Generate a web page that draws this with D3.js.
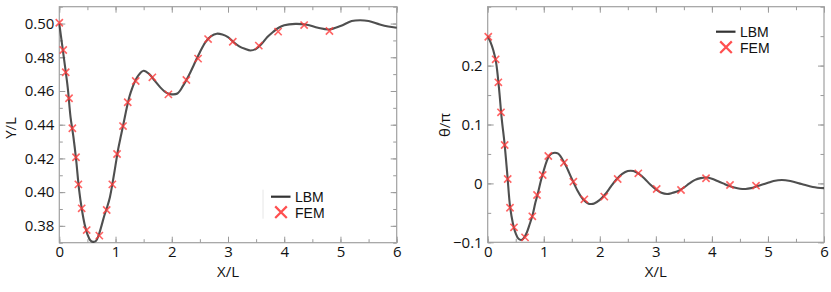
<!DOCTYPE html>
<html>
<head>
<meta charset="utf-8">
<script src="https://cdn.jsdelivr.net/npm/d3@7"></script>
<style>
  body { margin: 0; background: #fff; }
  svg text { font-family: "Open Sans", "DejaVu Sans", sans-serif; fill: #111; }
</style>
</head>
<body>
<svg id="chart" width="831" height="292"></svg>
<script>
// left panel : Y/L vs X/L
let lbmY_x = [0, 0.05, 0.1, 0.15, 0.2, 0.25, 0.3, 0.35, 0.4, 0.45, 0.5, 0.55, 0.6, 0.65, 0.7, 0.75, 0.8, 0.85, 0.9, 0.95,
	1.0, 1.05, 1.1, 1.15, 1.2, 1.25, 1.3, 1.35, 1.4, 1.5, 1.6, 1.7, 1.8, 1.9, 2.0, 2.1, 2.2, 2.3, 2.4, 2.5, 2.6, 2.7, 2.8, 2.9,
	3.0, 3.1, 3.2, 3.3, 3.4, 3.5, 3.6, 3.7, 3.8, 3.9, 4.0, 4.2, 4.4, 4.6, 4.8, 5.0, 5.2, 5.35, 5.5, 5.7, 5.85, 6.0];
let lbmY_y = [0.500, 0.4875, 0.475, 0.462, 0.4445, 0.433, 0.419, 0.402, 0.390, 0.381, 0.375, 0.3715, 0.3705, 0.371, 0.3745, 0.380, 0.386, 0.391, 0.397, 0.406,
	0.416, 0.426, 0.434, 0.442, 0.450, 0.457, 0.462, 0.466, 0.469, 0.472, 0.470, 0.466, 0.462, 0.459, 0.458, 0.4585, 0.463, 0.469, 0.476, 0.483, 0.489, 0.4925, 0.494, 0.4935,
	0.492, 0.489, 0.4865, 0.485, 0.484, 0.485, 0.488, 0.492, 0.495, 0.4975, 0.499, 0.4998, 0.4993, 0.4975, 0.4965, 0.4985, 0.5015, 0.502, 0.5015, 0.4995, 0.4983, 0.4975];
let femY_x = [0, 0.07, 0.114, 0.173, 0.232, 0.297, 0.339, 0.398, 0.487, 0.712, 0.843, 0.943, 1.027, 1.133, 1.217, 1.359, 1.655, 1.94, 2.26, 2.468, 2.646, 3.085, 3.548, 3.891, 4.354, 4.804];
let femY_y = [0.5005, 0.4843, 0.4711, 0.4557, 0.4379, 0.4207, 0.4046, 0.3904, 0.3775, 0.3742, 0.3894, 0.4046, 0.4226, 0.4392, 0.4533, 0.4659, 0.4681, 0.4580, 0.4665, 0.4792, 0.4908, 0.4892, 0.4869, 0.4952, 0.4991, 0.4956];

// right panel : theta/pi vs X/L
let lbmT_x = [0, 0.05, 0.1, 0.15, 0.2, 0.25, 0.3, 0.35, 0.4, 0.45, 0.5, 0.55, 0.6, 0.65, 0.7, 0.75, 0.8, 0.85, 0.9, 0.95,
	1.0, 1.05, 1.1, 1.15, 1.2, 1.25, 1.3, 1.35, 1.4, 1.5, 1.6, 1.7, 1.8, 1.85, 1.9, 2.0, 2.1, 2.2, 2.3, 2.4, 2.5, 2.6, 2.7, 2.8, 2.9,
	3.0, 3.1, 3.2, 3.3, 3.4, 3.5, 3.6, 3.7, 3.8, 3.9, 4.0, 4.1, 4.2, 4.3, 4.4, 4.5, 4.6, 4.7, 4.8, 4.9, 5.0, 5.1, 5.25, 5.4, 5.6, 5.8, 6.0];
let lbmT_y = [0.250, 0.240, 0.226, 0.205, 0.163, 0.110, 0.068, 0.015, -0.040, -0.068, -0.085, -0.094, -0.096, -0.092, -0.083, -0.069, -0.054, -0.033, -0.015, 0.005,
	0.022, 0.037, 0.047, 0.051, 0.052, 0.051, 0.046, 0.038, 0.029, 0.008, -0.012, -0.027, -0.0345, -0.035, -0.034, -0.028, -0.018, -0.005, 0.007, 0.016, 0.021, 0.021, 0.016, 0.008, -0.002,
	-0.010, -0.016, -0.018, -0.016, -0.013, -0.007, 0.000, 0.006, 0.009, 0.010, 0.008, 0.004, 0.000, -0.004, -0.007, -0.009, -0.0095, -0.008, -0.005, -0.002, 0.001, 0.004, 0.0058, 0.004, -0.001, -0.006, -0.008];
let femT_x = [0.01, 0.142, 0.19, 0.237, 0.303, 0.357, 0.398, 0.469, 0.666, 0.796, 0.88, 0.981, 1.081, 1.361, 1.528, 1.724, 2.08, 2.319, 2.687, 3.015, 3.449, 3.895, 4.323, 4.787];
let femT_y = [0.249, 0.2107, 0.1716, 0.1207, 0.0652, 0.0075, -0.0413, -0.0746, -0.0916, -0.0559, -0.0197, 0.0143, 0.0465, 0.0351, 0.0029, -0.027, -0.0225, 0.0075, 0.0171, -0.0095, -0.0112, 0.0087, -0.0027, -0.0039];

let xTicks = [0, 1, 2, 3, 4, 5, 6];
let yTicksL = [0.38, 0.40, 0.42, 0.44, 0.46, 0.48, 0.50];
let yTicksR = [-0.1, 0, 0.1, 0.2];
let seriesNames = ['LBM', 'FEM'];

let svg = d3.select('#chart');

function drawPanel(opt) {
	let x = d3.scaleLinear().domain([0, 6]).range([opt.left, opt.right]);
	let y = d3.scaleLinear().domain(opt.yDomain).range([opt.bottom, opt.top]);
	let g = svg.append('g').classed('panel', true);

	let xMinor = d3.range(0, 6.01, 0.5);
	let yMinor = d3.range(opt.yDomain[0], opt.yDomain[1] + 1e-9, opt.yMinorStep);

	// minor ticks on four sides
	let minorAxes = [
		[d3.axisBottom(x), opt.bottom, 'x', xMinor],
		[d3.axisTop(x), opt.top, 'x', xMinor],
		[d3.axisLeft(y), opt.left, 'y', yMinor],
		[d3.axisRight(y), opt.right, 'y', yMinor]
	];
	minorAxes.forEach(a => {
		let ax = g.append('g')
			.attr('transform', a[2] == 'x' ? `translate(0, ${a[1]})` : `translate(${a[1]}, 0)`)
			.call(a[0].tickValues(a[3]).tickSize(-3.5).tickFormat(''));
		ax.select('.domain').remove();
		ax.selectAll('line').attr('stroke', '#9a9a9a');
	});

	// major ticks with labels on bottom and left
	let majorAxes = [
		[d3.axisBottom(x).tickFormat(d3.format('d')), opt.bottom, 'x', xTicks, true],
		[d3.axisTop(x).tickFormat(''), opt.top, 'x', xTicks, false],
		[d3.axisLeft(y).tickFormat(opt.yFormat), opt.left, 'y', opt.yTicks, true],
		[d3.axisRight(y).tickFormat(''), opt.right, 'y', opt.yTicks, false]
	];
	majorAxes.forEach(a => {
		let ax = g.append('g')
			.attr('transform', a[2] == 'x' ? `translate(0, ${a[1]})` : `translate(${a[1]}, 0)`)
			.call(a[0].tickValues(a[3]).tickSize(-6).tickPadding(a[2] == 'x' ? 4 : 5));
		ax.select('.domain').remove();
		ax.selectAll('line').attr('stroke', '#9a9a9a');
		ax.selectAll('text')
			.attr('font-size', '15px')
			.attr('fill', '#111');
	});

	g.append('rect')
		.attr('x', opt.left)
		.attr('y', opt.top)
		.attr('width', opt.right - opt.left)
		.attr('height', opt.bottom - opt.top)
		.attr('fill', 'none')
		.attr('stroke', '#a0a0a0')
		.attr('stroke-width', 1.2);

	// LBM curve
	let pts = opt.lx.map((d, i) => [d, opt.ly[i]]);
	let line = d3.line()
		.x(d => x(d[0]))
		.y(d => y(d[1]))
		.curve(d3.curveCatmullRom);
	g.append('path')
		.attr('d', line(pts))
		.attr('fill', 'none')
		.attr('stroke', '#3c3c3c')
		.attr('stroke-width', 2.1)
		.attr('stroke-opacity', 0.9);

	// FEM markers
	let fem = opt.fx.map((d, i) => [d, opt.fy[i]]);
	let s = 3.6;
	g.selectAll('path.fem')
		.data(fem)
		.enter()
		.append('path')
		.classed('fem', true)
		.attr('d', d => {
			let cx = x(d[0]), cy = y(d[1]);
			return `M${cx - s},${cy - s}L${cx + s},${cy + s}M${cx - s},${cy + s}L${cx + s},${cy - s}`;
		})
		.attr('stroke', '#ff3b3b')
		.attr('stroke-opacity', 0.8)
		.attr('stroke-width', 1.6);

	// axis titles
	g.append('text')
		.attr('x', (opt.left + opt.right) / 2)
		.attr('y', 277)
		.attr('text-anchor', 'middle')
		.attr('font-size', '15px')
		.text('X/L');
	g.append('text')
		.attr('transform', `translate(${opt.yLabelX}, ${opt.yLabelY}) rotate(-90)`)
		.attr('text-anchor', 'middle')
		.attr('font-size', '15px')
		.text(opt.yLabel);

	// legend
	let lg = g.append('g').attr('transform', `translate(${opt.legX}, ${opt.legY})`);
	lg.append('line')
		.attr('x1', 0).attr('x2', 19.5)
		.attr('y1', 0).attr('y2', 0)
		.attr('stroke', '#333')
		.attr('stroke-width', 2.2);
	let m = 5.8, cx = 10, cy = 15.5;
	lg.append('path')
		.attr('d', `M${cx - m},${cy - m}L${cx + m},${cy + m}M${cx - m},${cy + m}L${cx + m},${cy - m}`)
		.attr('stroke', '#ff3030')
		.attr('stroke-width', 2.2)
		.attr('stroke-opacity', 0.85);
	lg.selectAll('text')
		.data(seriesNames)
		.enter()
		.append('text')
		.attr('x', 24)
		.attr('y', (d, i) => i * 16.3 + 5)
		.style('font-family', '"Liberation Sans", Arial, sans-serif')
		.style('font-size', '14px')
		.text(d => d);
	if (opt.legBar) {
		lg.append('line')
			.attr('x1', -8).attr('x2', -8)
			.attr('y1', -7).attr('y2', 22)
			.attr('stroke', '#e6e6e6')
			.attr('stroke-width', 1);
	}
}

drawPanel({
	left: 59.3, right: 396.7, top: 6.7, bottom: 242.7,
	yDomain: [0.37, 0.51], yTicks: yTicksL, yMinorStep: 0.01, yFormat: d3.format('.2f'),
	lx: lbmY_x, ly: lbmY_y, fx: femY_x, fy: femY_y,
	yLabel: 'Y/L', yLabelX: 16, yLabelY: 128,
	legX: 271, legY: 196.7, legBar: true
});

drawPanel({
	left: 487.7, right: 824, top: 6.7, bottom: 242.3,
	yDomain: [-0.1, 0.3], yTicks: yTicksR, yMinorStep: 0.05, yFormat: d => d == 0 ? '0' : d3.format('.1f')(d),
	lx: lbmT_x, ly: lbmT_y, fx: femT_x, fy: femT_y,
	yLabel: 'θ/π', yLabelX: 450, yLabelY: 125,
	legX: 716, legY: 31.7, legBar: false
});
</script>
</body>
</html>
